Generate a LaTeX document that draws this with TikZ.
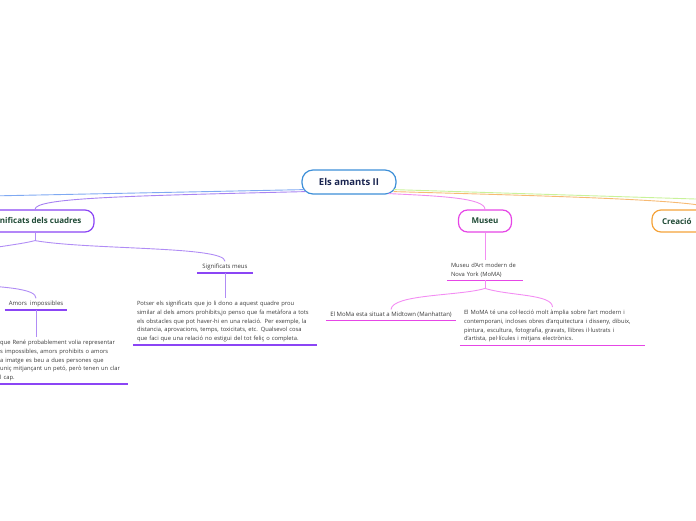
\documentclass[tikz,border=0pt]{standalone}
\usepackage{fontspec}
\setmainfont{Open Sans}
\usetikzlibrary{calc}
\definecolor{rootblue}{HTML}{3D8FD8}
\definecolor{rootText}{HTML}{1A2550}
\definecolor{topicText}{HTML}{1F4A35}
\definecolor{violet}{HTML}{8B45F5}
\definecolor{violetline}{HTML}{B08CF5}
\definecolor{magenta}{HTML}{E646E6}
\definecolor{magentaline}{HTML}{F38DF3}
\definecolor{orangeb}{HTML}{F5A33A}
\definecolor{orangeline}{HTML}{F7BA73}
\definecolor{greenline}{HTML}{C9F29A}
\definecolor{blueline}{HTML}{7FA9F2}
\definecolor{purpleline}{HTML}{A883F2}
\definecolor{pinkline}{HTML}{F08CF0}
\definecolor{descText}{HTML}{3A3A3A}
\tikzset{
  topic/.style={draw, line width=1.2pt, rounded corners=9pt, fill=white, minimum height=22pt,
    font=\fontsize{8}{10}\selectfont\bfseries, text=topicText, inner sep=2pt},
  sub/.style={font=\fontsize{6}{8}\selectfont, text=descText, inner xsep=4pt, inner ysep=2.5pt},
  desc/.style={font=\fontsize{5.8}{8.7}\selectfont, text=descText, align=left, inner xsep=4pt, inner ysep=3pt},
  conn/.style={line width=0.9pt},
  uline/.style={line width=1.6pt}
}
\begin{document}
\begin{tikzpicture}[x=1pt,y=-1pt]
\useasboundingbox (0,0) rectangle (696,520);
\clip (0,0) rectangle (696,520);

% off-screen anchors
\coordinate (offL) at (-60,197);
\coordinate (offR) at (760,201);
\coordinate (offB) at (-70,262);
\coordinate (offA) at (-70,283);

% main topics
\node[topic, draw=rootblue, minimum width=94pt, minimum height=24pt, rounded corners=11pt,
  font=\fontsize{9.5}{11}\selectfont\bfseries, text=rootText] (root) at (349,182) {Els amants II};
\node[topic, draw=violet, minimum width=118pt] (sdc) at (35,221) {Significats dels cuadres};
\node[topic, draw=magenta, minimum width=53pt] (museu) at (485,221) {Museu};
\node[topic, draw=orangeb, minimum width=120pt, text width=100pt, align=left] (creacio) at (712,221) {Creació};

% root connectors
\draw[conn, blueline] ($(root.south west)+(3,-5)$) -- (offL);
\draw[conn, purpleline] ($(root.south west)+(4,-3)$) .. controls (120,196) and (35,198) .. (sdc.north);
\draw[conn, pinkline] ($(root.south east)+(-8,-1)$) .. controls (440,196) and (485,198) .. (museu.north);
\draw[conn, greenline] ($(root.south east)+(-3,-5)$) -- (offR);
\draw[conn, orangeline] ($(root.south east)+(-3,-3)$) .. controls (550,196) and (712,200) .. (creacio.north);

% Significats dels cuadres subtree
\coordinate (fork1) at ($(sdc.south)+(0,8)$);
\node[sub, minimum width=56pt] (sm) at (225,267) {Significats meus};
\node[sub, minimum width=60pt] (ai) at (36,304) {Amors\ \ impossibles};
\draw[conn, violetline] (sdc.south) -- (fork1);
\draw[conn, violetline] (fork1) .. controls (90,250) and (225,246) .. (sm.north);
\draw[conn, violetline] (fork1) .. controls (15,246) and (-40,250) .. (offB);
\draw[conn, violetline] (offA) .. controls (10,286) and (36,289) .. (ai.north);
\draw[uline, violet] (sm.south west) -- (sm.south east);
\draw[uline, violet] (ai.south west) -- (ai.south east);

\node[desc, text width=176pt, anchor=north] (smd) at (225,298)
 {Potser els significats que jo li dono a aquest quadre prou\\
  similar al dels amors prohibits,jo penso que fa metàfora a tots\\
  els obstacles que pot haver-hi en una relació. Per exemple, la\\
  distancia, aprovacions, temps, toxicitats, etc. Qualsevol cosa\\
  que faci que una relació no estigui del tot feliç o completa.};
\draw[conn, violetline] (sm.south) -- (smd.north);
\draw[uline, violet] (smd.south west) -- (smd.south east);

\node[desc, text width=124pt, anchor=north west] (aid) at (-4,337)
 {que René probablement volia representar\\
  s impossibles, amors prohibits o amors\\
  a imatge es beu a dues persones que\\
  uniç mitjançant un petó, però tenen un clar\\
  l cap.};
\draw[conn, violetline] (ai.south) -- (ai.south |- aid.north);
\draw[uline, violet] (aid.south west) -- (aid.south east);

% Museu subtree
\node[desc, text width=68pt, anchor=north] (moma) at (485,260)
 {Museu d'Art modern de\\ Nova York (MoMA)};
\draw[conn, magentaline] (museu.south) -- (moma.north);
\draw[uline, magenta] (moma.south west) -- (moma.south east);
\coordinate (fork2) at ($(moma.south)+(0,8)$);
\draw[conn, magentaline] (moma.south) -- (fork2);

\node[sub, minimum width=130pt] (mid) at (391,315) {El MoMa esta situat a Midtown (Manhattan)};
\draw[uline, magenta] (mid.south west) -- (mid.south east);
\draw[conn, magentaline] (fork2) .. controls (460,296) and (392,294) .. (mid.north);

\node[desc, text width=177pt, anchor=north] (col) at (552.5,307)
 {El MoMA té una col·lecció molt àmplia sobre l'art modern i\\
  contemporani, incloses obres d'arquitectura i disseny, dibuix,\\
  pintura, escultura, fotografia, gravats, llibres il·lustrats i\\
  d'artista, pel·lícules i mitjans electrònics.};
\draw[uline, magenta] (col.south west) -- (col.south east);
\draw[conn, magentaline] (fork2) .. controls (510,296) and (552,294) .. (col.north);
\end{tikzpicture}
\end{document}
